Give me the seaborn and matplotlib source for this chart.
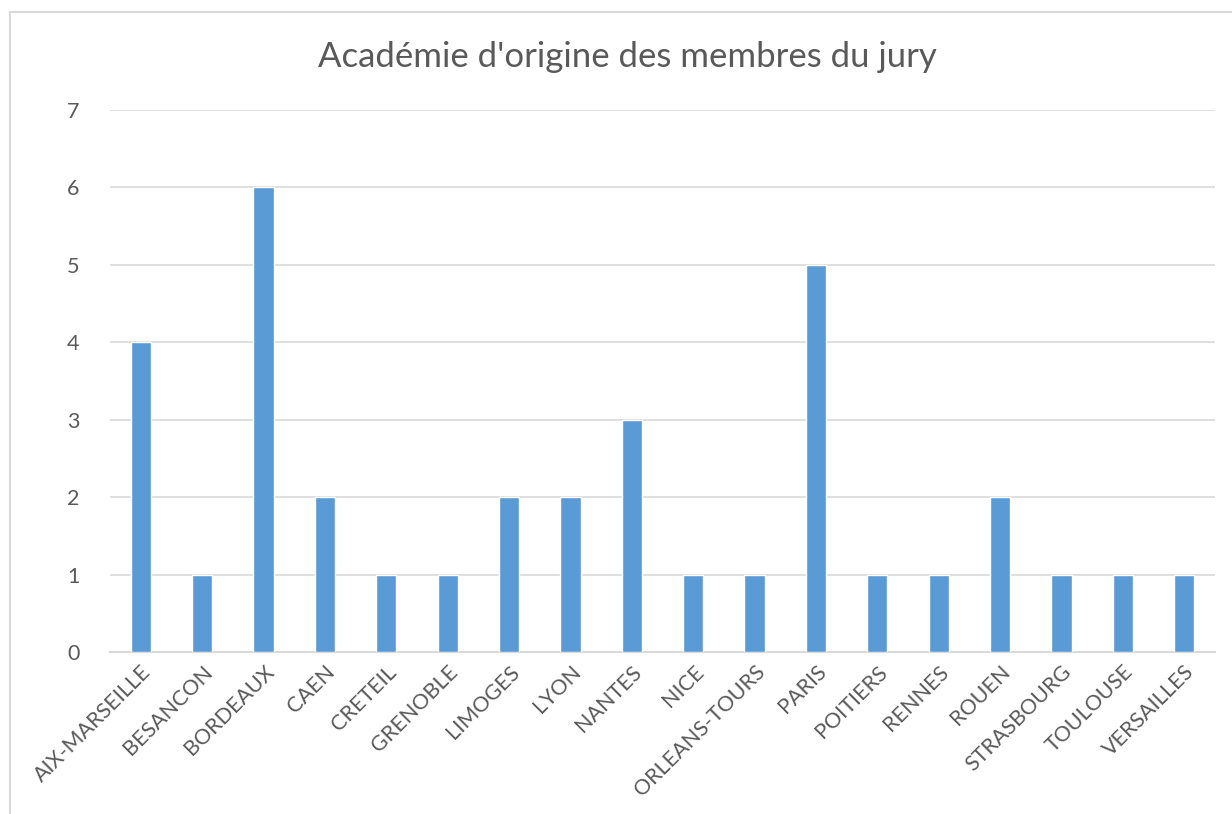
import matplotlib
matplotlib.use("Agg")
import matplotlib.pyplot as plt
import seaborn as sns
import pandas as pd
from matplotlib.patches import Rectangle

# data
academies = ["AIX-MARSEILLE", "BESANCON", "BORDEAUX", "CAEN", "CRETEIL", "GRENOBLE",
             "LIMOGES", "LYON", "NANTES", "NICE", "ORLEANS-TOURS", "PARIS", "POITIERS",
             "RENNES", "ROUEN", "STRASBOURG", "TOULOUSE", "VERSAILLES"]
membres = [4, 1, 6, 2, 1, 1, 2, 2, 3, 1, 1, 5, 1, 1, 2, 1, 1, 1]
y_ticks = [0, 1, 2, 3, 4, 5, 6, 7]

df = pd.DataFrame({"academie": academies, "membres": membres})

sns.set_style("white")
plt.rcParams["font.family"] = ["Lato", "DejaVu Sans"]

fig = plt.figure(figsize=(12.32, 8.14), dpi=100)
ax = fig.add_axes([110 / 1232, 1 - 652 / 814, (1215 - 110) / 1232, (652 - 110) / 814])

sns.barplot(data=df, x="academie", y="membres", color="#5B9BD5", saturation=1,
            width=0.33, ax=ax, zorder=3)

ax.set_ylim(0, 7)
ax.set_xlim(-0.5, len(academies) - 0.5)
ax.set_yticks(y_ticks)
ax.yaxis.grid(True, color="#D9D9D9", linewidth=1.2, zorder=0)
ax.set_axisbelow(True)
for s in ["top", "right", "left"]:
    ax.spines[s].set_visible(False)
ax.spines["bottom"].set_color("#D9D9D9")
ax.spines["bottom"].set_linewidth(1.5)

ax.set_xlabel("")
ax.set_ylabel("")
ax.tick_params(axis="both", length=0, colors="#595959", labelsize=15.5)
ax.tick_params(axis="y", pad=22)
ax.tick_params(axis="x", pad=7)
plt.setp(ax.get_xticklabels(), rotation=45, ha="right", rotation_mode="anchor")

fig.text(627 / 1232, 1 - 57 / 814, "Académie d'origine des membres du jury",
         ha="center", va="center", fontsize=25, color="#595959")

# chart frame
fig.patches.append(Rectangle((10 / 1232, -0.1), 1.2, 1 - 12 / 814 + 0.1,
                             transform=fig.transFigure, fill=False,
                             edgecolor="#D9D9D9", linewidth=1.5))

fig.savefig("out.png", dpi=100)
